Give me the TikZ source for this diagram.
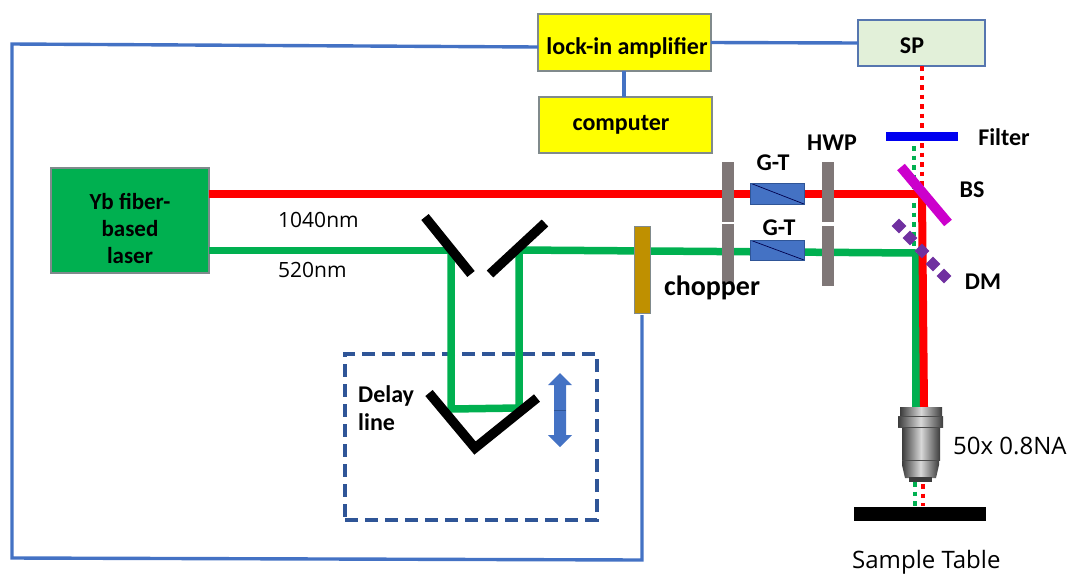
\documentclass[tikz,border=0pt]{standalone}
\usepackage{fontspec}
\setmainfont{Carlito}
\newfontfamily\labelfont{Open Sans}
\usetikzlibrary{shapes.geometric,arrows.meta}
\definecolor{beamgreen}{HTML}{00B050}
\definecolor{beamred}{HTML}{FF0000}
\definecolor{wireblue}{HTML}{4472C4}
\definecolor{darkblue}{HTML}{2F5597}
\definecolor{plategray}{HTML}{7F7777}
\definecolor{edgegray}{HTML}{808A8C}
\definecolor{pureyellow}{HTML}{FFFF00}
\definecolor{spgreen}{HTML}{E2F0D9}
\definecolor{chopbrown}{HTML}{BF9000}
\definecolor{bsmagenta}{HTML}{CC00CC}
\definecolor{filterblue}{HTML}{0000F0}
\definecolor{dmpurple}{HTML}{7030A0}
\definecolor{objdark}{HTML}{3C3C3C}
\definecolor{objlight}{HTML}{D8D8D8}
\tikzset{
  box/.style={draw=edgegray,line width=1.2pt,inner sep=0pt,outer sep=0pt,anchor=north west,align=center},
  boxtext/.style={font=\bfseries\fontsize{24}{28}\selectfont,inner sep=0pt},
  wire/.style={draw=wireblue,line width=3.4pt},
  redbeam/.style={draw=beamred,line width=8pt},
  greenbeam/.style={draw=beamgreen,line width=7.5pt},
  reddots/.style={draw=beamred,line width=4.5pt,dash pattern=on 4.5pt off 5pt},
  greendots/.style={draw=beamgreen,line width=4.5pt,dash pattern=on 4.5pt off 5pt},
  mirror/.style={draw=black,line width=9.5pt},
  plate/.style={fill=plategray,draw=none,minimum width=11.5pt,minimum height=60pt,inner sep=0pt,outer sep=0pt,anchor=north west},
  gt/.style={fill=wireblue,draw=darkblue,line width=.5pt,minimum width=54pt,minimum height=21pt,inner sep=0pt,outer sep=0pt,anchor=north west,path picture={\draw[black!70!blue,line width=.7pt] (path picture bounding box.north west) -- (path picture bounding box.south east);}},
  dm/.style={fill=dmpurple,draw=none,diamond,minimum width=15pt,minimum height=15pt,inner sep=0pt},
  blabel/.style={font=\bfseries\fontsize{24}{28}\selectfont,inner sep=0pt},
  slabel/.style={font=\labelfont\fontsize{21}{25}\selectfont,inner sep=0pt,anchor=west},
  biglabel/.style={font=\labelfont\fontsize{24}{28}\selectfont,inner sep=0pt,anchor=west},
}
\begin{document}
\begin{tikzpicture}[x=1pt,y=-1pt]
\useasboundingbox (0,0) rectangle (1068,574);
% instruments
\node[box,fill=pureyellow,minimum width=173pt,minimum height=57pt] (lockin) at (538,14) {};
\node[box,fill=pureyellow,minimum width=173pt,minimum height=56pt] (computer) at (539,97) {};
\node[box,draw=wireblue!70!gray,fill=spgreen,minimum width=127pt,minimum height=46pt] (sp) at (858,20) {};
\node[box,fill=beamgreen,minimum width=158pt,minimum height=105pt] (laser) at (51,168) {};
\node[boxtext] at (627,48) {lock-in amplifier};
\node[boxtext] at (621,125) {computer};
\node[boxtext] at (912,46) {SP};
\node[boxtext,align=center,font=\bfseries\fontsize{23}{27}\selectfont] at (130,228) {Yb fiber-\\based\\laser};
% coordinates
\coordinate (redturn) at (922,194);
\coordinate (redobj) at (924,407);
\coordinate (g1) at (451,250);
\coordinate (g2) at (451,409);
\coordinate (g3) at (519,408);
\coordinate (g4) at (519,250);
\coordinate (g5) at (916,253);
\coordinate (g6) at (916,407);
% dashed delay box
\node[draw=darkblue,line width=4pt,dash pattern=on 13pt off 7pt,minimum width=252pt,minimum height=166pt,inner sep=0pt,outer sep=0pt,anchor=north west] (delay) at (345,354) {};
% wires
\draw[wire] (lockin.west |- 0,47) -- (12,44) -- (12,558) -- (642,560) -- (642,315);
\draw[wire] (lockin.south -| 624,0) -- (computer.north -| 624,0);
\draw[wire] (lockin.east) -- (sp.west);
% beams
\draw[greendots] (914,146) -- (914,252);
\draw[reddots] (922,66) -- (922,131);
\draw[reddots] (922,143) -- (922,190);
\draw[greenbeam,line width=7pt] (laser.east |- g1) -- (g1);
\draw[greenbeam,line join=miter] (g1) -- (g2) -- (g3) -- (g4);
\draw[greenbeam] (g4) -- (g5);
\draw[greenbeam,line width=8pt] (g5) -- (g6);
\draw[redbeam] (laser.east |- redturn) -- (redturn);
\draw[redbeam] ([yshift=-3pt]redturn) -- (redobj);
% elements
\node[fill=filterblue,minimum width=72pt,minimum height=9pt,inner sep=0pt,outer sep=0pt,anchor=north west] (filter) at (886,132) {};
\node[plate] (p1) at (722,162) {};
\node[plate] (p2) at (722,224) {};
\node[plate] (p3) at (822,162) {};
\node[plate] (p4) at (822,226) {};
\node[gt] (gt1) at (750,183) {};
\node[gt,minimum height=20pt] (gt2) at (750,240) {};
\node[fill=chopbrown,draw=edgegray,line width=1pt,minimum width=16pt,minimum height=87pt,inner sep=0pt,outer sep=0pt,anchor=north west] (chopper) at (634,226) {};
\draw[draw=bsmagenta,line width=10pt] (901,167) -- (948,223);
\foreach \i/\x/\y in {a/899/226,b/910/238,c/922/251,d/933/264,e/944/276}
  \node[dm] (dm\i) at (\x,\y) {};
% mirrors
\draw[mirror] (425,217) -- (471,274);
\draw[mirror] (490,274) -- (545,223);
\draw[mirror,line join=miter] (429,393) -- (475,448) -- (537,398);
% arrow
\fill[wireblue] (560,373) -- (572,385) -- (566,385) -- (566,435) -- (572,435) -- (560,447) -- (548,435) -- (554,435) -- (554,385) -- (548,385) -- cycle;
\draw[darkblue,line width=.8pt] (554,410) -- (566,410);
% dots below objective
\draw[greendots] (915,482) -- (915,506);
\draw[reddots] (923,484) -- (923,506);
% objective
\shade[left color=objdark,right color=objdark,middle color=objlight] (905,478) -- (936,478) -- (939,465) -- (939,458) -- (902,458) -- (902,465) -- cycle;
\fill[objdark] (909,477) rectangle (932,482);
\shade[left color=objdark,right color=objdark,middle color=objlight] (902,427) rectangle (940,460);
\shade[left color=objdark,right color=objdark,middle color=objlight] (898,416) rectangle (943,427);
\shade[left color=objdark,right color=objdark,middle color=objlight] (900,407) rectangle (942,416);
\draw[black!70,line width=.8pt] (898,416) -- (943,416) (898,427) -- (943,427) (902,460) -- (939,460);
% table
\node[fill=black,minimum width=132pt,minimum height=14pt,inner sep=0pt,outer sep=0pt,anchor=north west] (table) at (854,507) {};
% labels
\node[blabel] (tfilter) at (1004,137) {Filter};
\node[blabel] (tbs) at (972,190) {BS};
\node[blabel] (tdm) at (983,282) {DM};
\node[blabel] (thwp) at (832,143) {HWP};
\node[blabel] (tgt1) at (773,163) {G-T};
\node[blabel] (tgt2) at (779,228) {G-T};
\node[blabel,font=\bfseries\fontsize{28}{32}\selectfont] (tchop) at (712,288) {chopper};
\node[blabel,align=left,anchor=west] (tdelay) at (358,408) {Delay\\line};
\node[slabel] (t1040) at (278,220) {1040nm};
\node[slabel] (t520) at (278,270) {520nm};
\node[biglabel] (tna) at (953,446) {50x 0.8NA};
\node[biglabel] (ttable) at (852,562) {Sample Table};
\end{tikzpicture}
\end{document}
